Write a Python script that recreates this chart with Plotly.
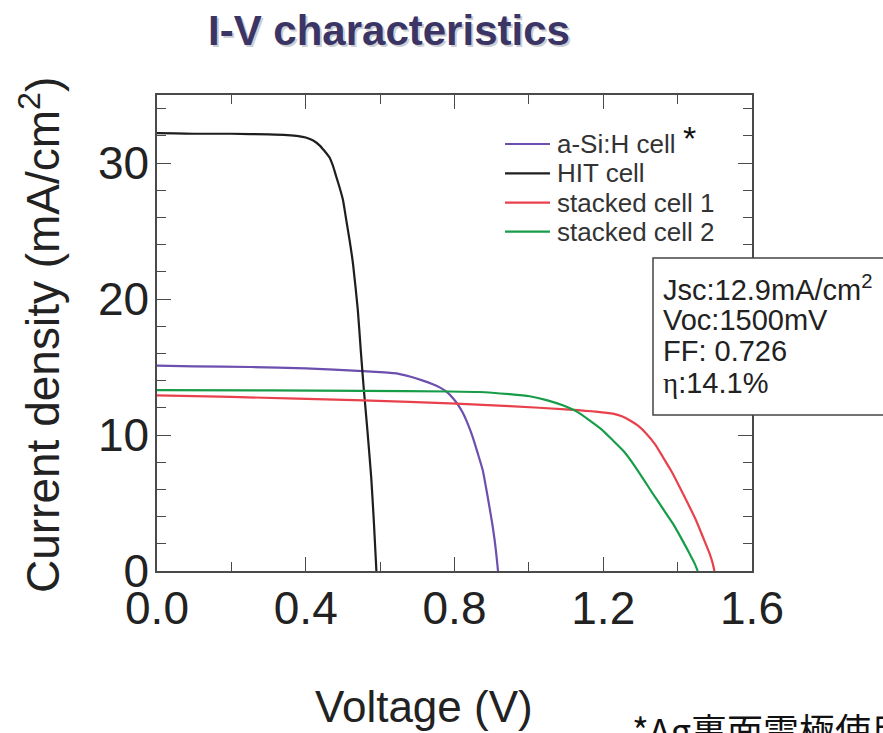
import plotly.graph_objects as go

# I-V curves: voltage (V) and current density (mA/cm^2)
asi_v = [0.0, 0.10, 0.25, 0.40, 0.554, 0.60, 0.65, 0.68, 0.715, 0.74, 0.76, 0.78, 0.796, 0.81, 0.823,
         0.836, 0.849, 0.862, 0.876, 0.885, 0.894, 0.902, 0.908, 0.913, 0.917]
asi_j = [15.1, 15.05, 15.0, 14.9, 14.7, 14.62, 14.5, 14.3, 14.0, 13.75, 13.5, 13.15, 12.7, 12.2, 11.6,
         10.8, 9.85, 8.7, 7.4, 6.1, 4.7, 3.4, 2.26, 1.1, 0.0]

hit_v = [0.0, 0.05, 0.10, 0.20, 0.30, 0.35, 0.38, 0.40, 0.42, 0.437, 0.45, 0.464, 0.473, 0.482, 0.491,
         0.50, 0.509, 0.518, 0.527, 0.54, 0.548, 0.556, 0.565, 0.576, 0.583, 0.590]
hit_j = [32.2, 32.18, 32.15, 32.15, 32.1, 32.05, 31.98, 31.87, 31.65, 31.3, 30.9, 30.4, 29.8, 29.0, 28.2,
         27.3, 25.8, 24.3, 22.6, 19.2, 16.2, 13.4, 10.6, 6.9, 3.7, 0.0]

s1_v = [0.0, 0.20, 0.554, 0.805, 0.948, 1.109, 1.18, 1.226, 1.25, 1.271, 1.295, 1.316, 1.34, 1.36,
        1.383, 1.405, 1.428, 1.45, 1.468, 1.486, 1.494, 1.499]
s1_j = [12.92, 12.8, 12.55, 12.3, 12.13, 11.87, 11.72, 11.57, 11.38, 11.08, 10.65, 10.1, 9.3, 8.4,
        7.35, 6.2, 4.95, 3.7, 2.5, 1.28, 0.6, 0.0]

s2_v = [0.0, 0.30, 0.554, 0.787, 0.867, 0.948, 1.002, 1.05, 1.091, 1.13, 1.163, 1.196, 1.226, 1.255,
        1.28, 1.307, 1.333, 1.36, 1.387, 1.41, 1.432, 1.445, 1.454]
s2_j = [13.3, 13.28, 13.25, 13.2, 13.16, 13.0, 12.85, 12.55, 12.18, 11.7, 11.08, 10.4, 9.6, 8.8,
        7.9, 6.8, 5.7, 4.6, 3.5, 2.4, 1.28, 0.6, 0.0]

names = ["a-Si:H cell", "HIT cell", "stacked cell 1", "stacked cell 2"]
colors = ["#6c4fae", "#1e1e1e", "#e8414b", "#179c48"]
curves = [(asi_v, asi_j), (hit_v, hit_j), (s1_v, s1_j), (s2_v, s2_j)]

# stacked cell 1 parameters
ETA = '<span style="font-family:Liberation Serif, Times New Roman, serif">η</span>'
params = ["Jsc:12.9mA/cm<sup>2</sup>", "Voc:1500mV", "FF: 0.726", ETA + ":14.1%"]

x_ticks = [0.0, 0.4, 0.8, 1.2, 1.6]
y_ticks = [0, 10, 20, 30]

W, H = 883, 733
L, R, T, B = 157, 752, 95, 571


def px(x):
    return (x - L) / (R - L)


def py(y):
    return (B - y) / (B - T)


FONT = "Arial, Liberation Sans, sans-serif"
AX = "#4a4a4a"

fig = go.Figure()
for (v, j), name, c in zip(curves, names, colors):
    fig.add_trace(go.Scatter(x=v, y=j, mode="lines", name=name,
                             line=dict(color=c, width=2.2, shape="spline", smoothing=0.5),
                             showlegend=False))

axis_common = dict(showline=True, linecolor=AX, linewidth=1.5, mirror="allticks",
                   ticks="inside", tickcolor=AX, tickwidth=1.3, ticklen=14,
                   showgrid=False, zeroline=False,
                   tickfont=dict(family=FONT, size=46, color="#222"))

fig.update_xaxes(range=[0, 1.6], tickvals=x_ticks, ticktext=[f"{t:.1f}" for t in x_ticks],
                 minor=dict(ticks="inside", dtick=0.2, tick0=0, ticklen=9, tickcolor=AX, tickwidth=1.3),
                 ticklabelstandoff=-4, **axis_common)
fig.update_yaxes(range=[0, 35], tickvals=y_ticks,
                 minor=dict(ticks="inside", dtick=2, tick0=0, ticklen=9, tickcolor=AX, tickwidth=1.3),
                 ticklabelstandoff=-3, **axis_common)


def label(text, x, y, size, color="#222", xanchor="center", yanchor="middle", **kw):
    return dict(text=text, x=px(x), y=py(y), xref="paper", yref="paper", xanchor=xanchor,
                yanchor=yanchor, showarrow=False, font=dict(family=kw.pop("family", FONT),
                                                           size=size, color=color), **kw)


ann = []
# title with soft shadow
ann.append(label("<b>I-V characteristics</b>", 391, 32, 42, "rgba(110,110,130,0.35)"))
ann.append(label("<b>I-V characteristics</b>", 389, 30, 42, "#3a3565"))
# axis titles
ann.append(label("Voltage (V)", 424, 707, 44))
ann.append(label("Current density (mA/cm<sup>2</sup>)", 40, 335, 46, textangle=-90))

# legend
shapes = []
row_y = [144, 173.3, 202.7, 231.7]
for name, c, yy in zip(names, colors, row_y):
    shapes.append(dict(type="line", xref="paper", yref="paper", x0=px(505), x1=px(550),
                       y0=py(yy), y1=py(yy), line=dict(color=c, width=2.2)))
    ann.append(label(name, 555, yy, 26, "#333", xanchor="left"))
ann.append(label("*", 689, 138, 34, "#111"))

# parameter box
shapes.append(dict(type="rect", xref="paper", yref="paper", layer="above",
                   x0=px(653), x1=px(905), y0=py(415), y1=py(258),
                   fillcolor="white", line=dict(color="#444", width=1.5)))
for text, yy in zip(params, [288, 320, 351, 383]):
    ann.append(label(text, 661, yy, 29, "#222", xanchor="left"))

# footnote
ann.append(label("*Ag裏面電極使用", 630, 701, 36, "#111", xanchor="left", yanchor="top",
                 family="Noto Sans CJK JP"))

fig.update_layout(width=W, height=H, margin=dict(l=L, r=W - R, t=T, b=H - B),
                  plot_bgcolor="white", paper_bgcolor="white",
                  annotations=ann, shapes=shapes)

fig.write_html("out.html")
